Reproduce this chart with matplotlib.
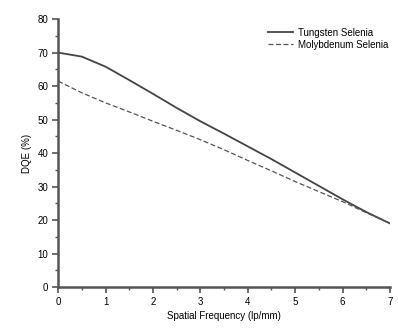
import matplotlib
matplotlib.use('Agg')
import matplotlib.pyplot as plt
from matplotlib.ticker import MultipleLocator

plt.rcParams['font.family'] = ['Liberation Sans', 'DejaVu Sans']

# spatial frequency (lp/mm)
freq = [0, 0.5, 1, 1.5, 2, 2.5, 3, 3.5, 4, 4.5, 5, 5.5, 6, 6.5, 7]
# DQE (%)
tungsten = [70, 68.8, 65.8, 61.8, 57.7, 53.5, 49.5, 45.8, 42, 38.2, 34.2, 30.2, 26.2, 22.4, 19]
molybdenum = [61.5, 58, 55, 52.3, 49.5, 46.8, 44, 41, 37.8, 34.7, 31.5, 28.5, 25.5, 22.2, 19]

fig = plt.figure(figsize=(3.98, 3.35), dpi=100)
ax = fig.add_axes([0.146, 0.143, 0.834, 0.80])

ax.plot(freq, tungsten, color='#444444', lw=1.3, label='Tungsten Selenia')
ax.plot(freq, molybdenum, color='#555555', lw=0.9, ls=(0, (4, 2)), label='Molybdenum Selenia')

ax.set_xlim(0, 7)
ax.set_ylim(0, 80)
ax.xaxis.set_major_locator(MultipleLocator(1))
ax.xaxis.set_minor_locator(MultipleLocator(0.5))
ax.yaxis.set_major_locator(MultipleLocator(10))
ax.yaxis.set_minor_locator(MultipleLocator(5))

for s in ['top', 'right']:
    ax.spines[s].set_visible(False)
for s in ['left', 'bottom']:
    ax.spines[s].set_linewidth(1.8)
    ax.spines[s].set_color('#555555')

ax.tick_params(which='major', length=4, width=1.2, color='#555555', labelsize=7, pad=3)
ax.tick_params(which='minor', length=2, width=1, color='#555555')

ax.set_xlabel('Spatial Frequency (lp/mm)', fontsize=7, labelpad=3)
ax.set_ylabel('DQE (%)', fontsize=7, labelpad=4)

ax.legend(loc='upper right', bbox_to_anchor=(1.02, 1.0), frameon=False, fontsize=7,
          handlelength=2.5, handletextpad=0.5, labelspacing=0.2)

fig.savefig('out.png', dpi=100)
